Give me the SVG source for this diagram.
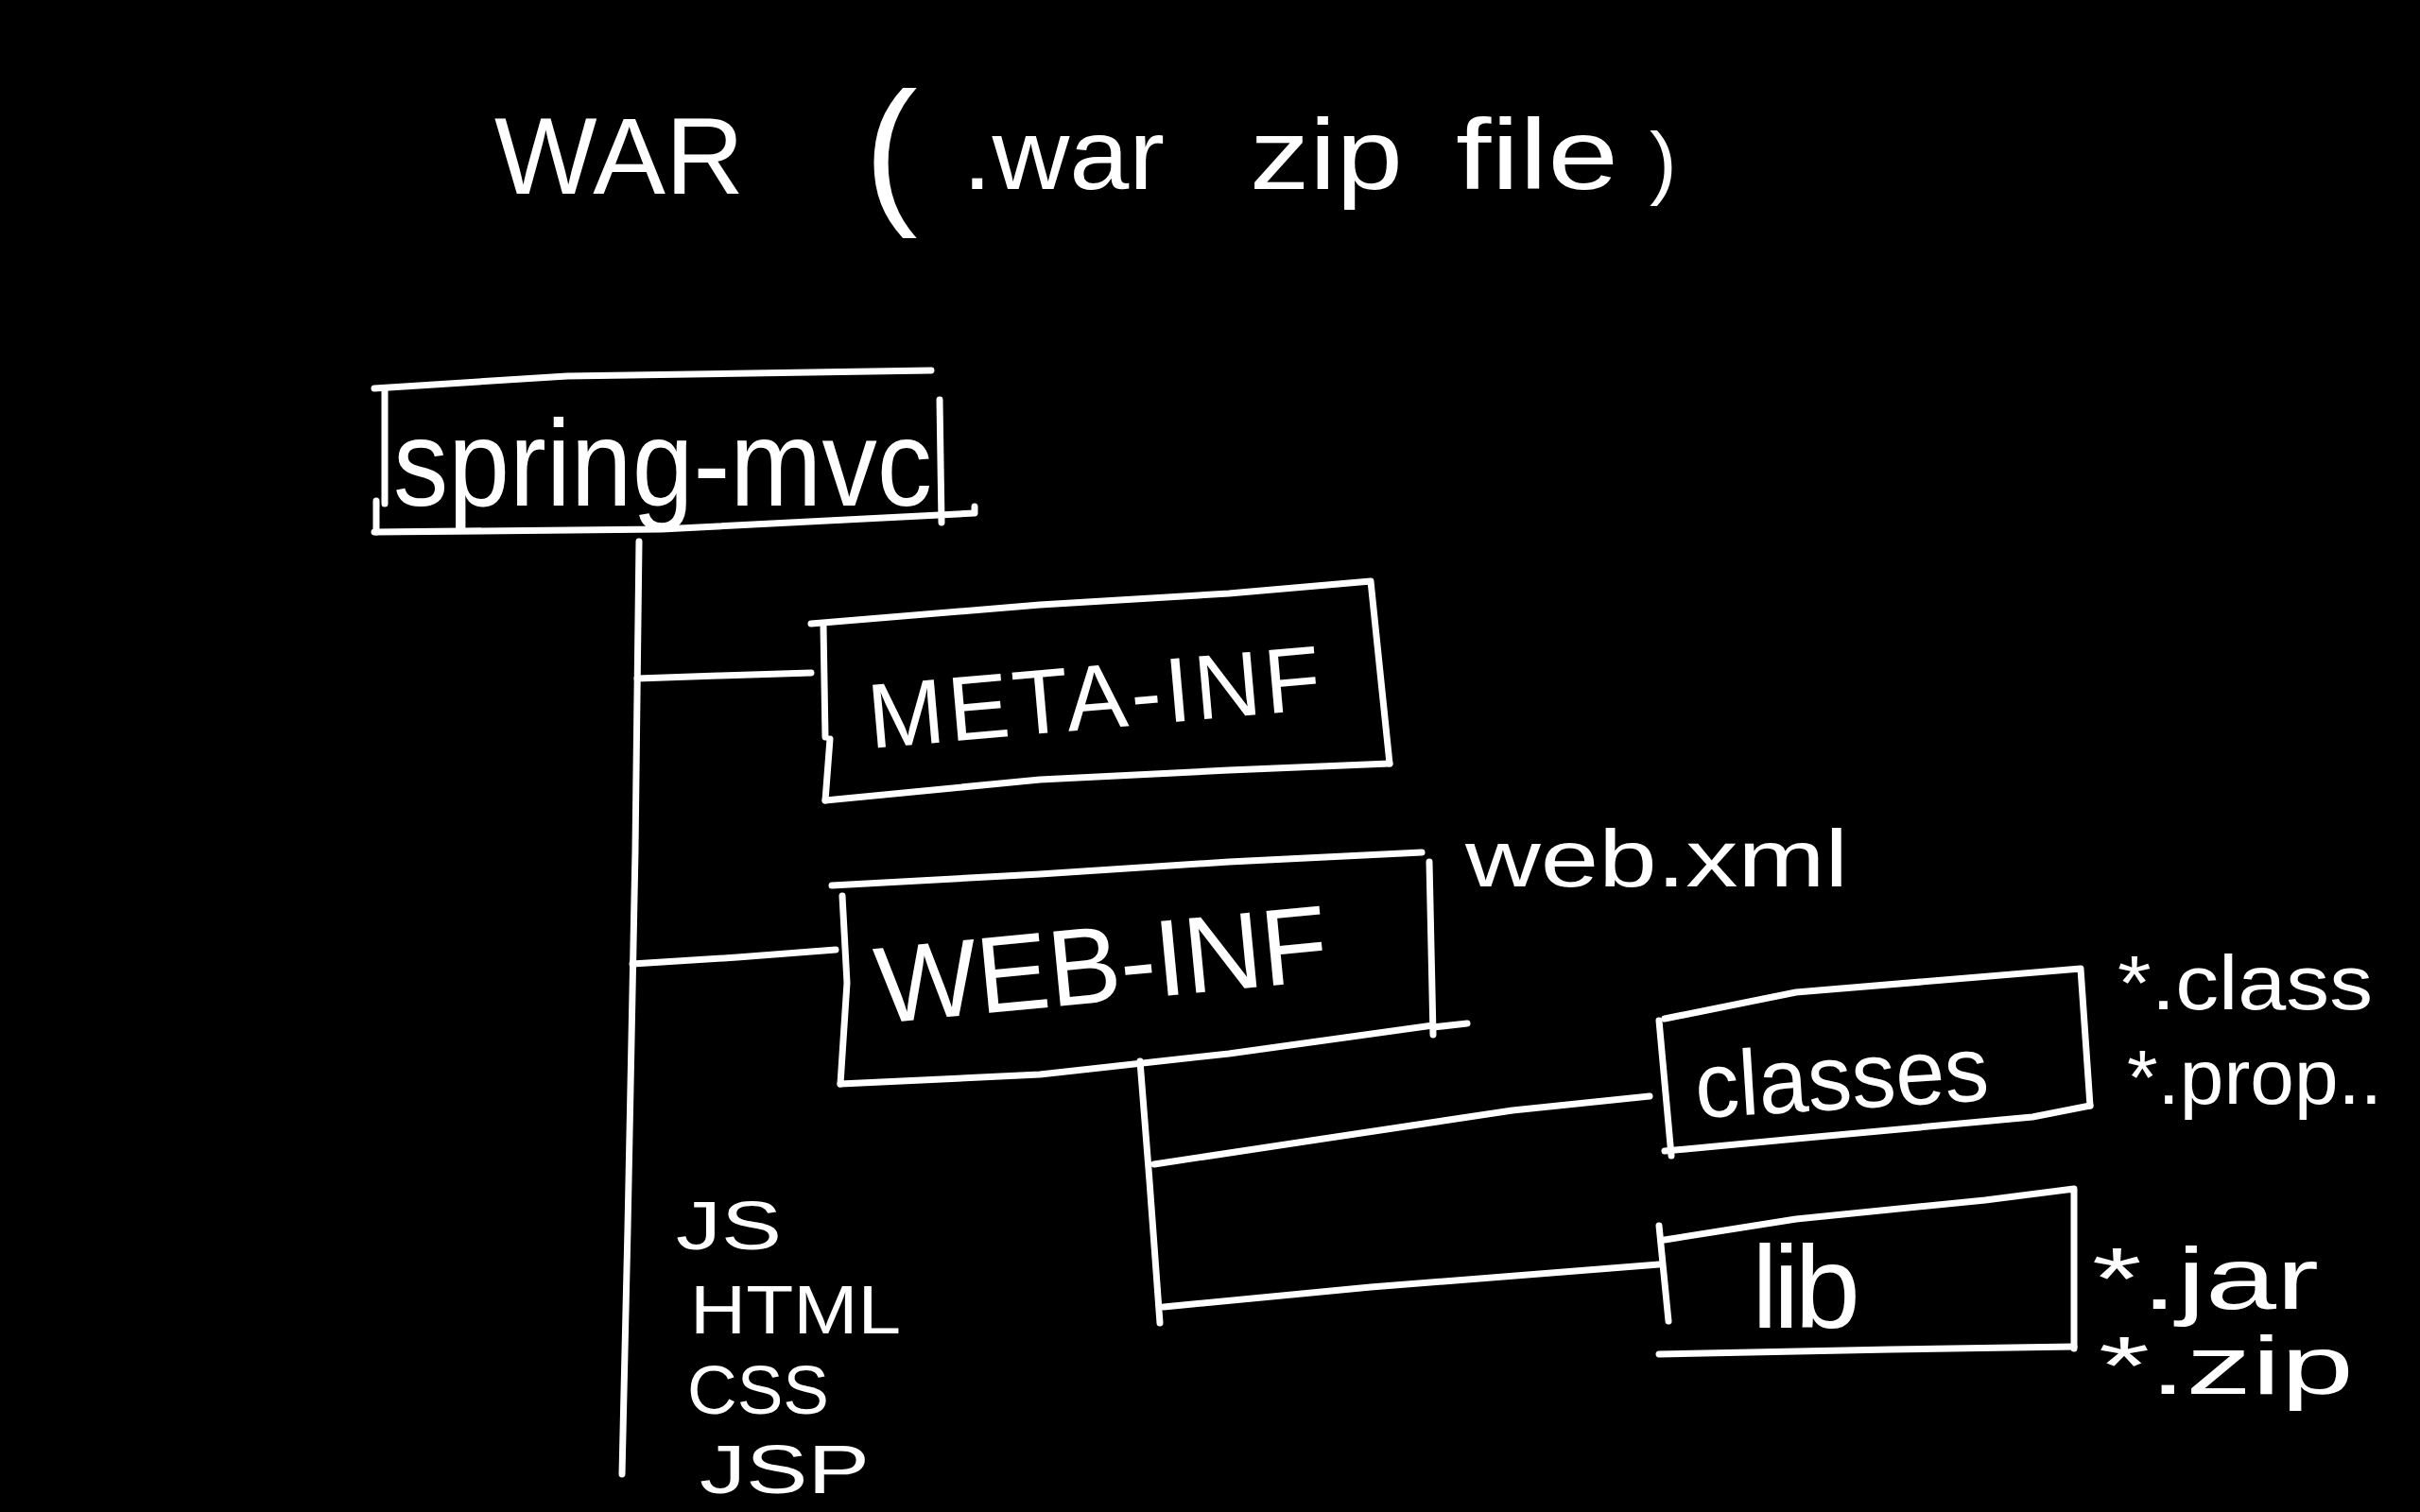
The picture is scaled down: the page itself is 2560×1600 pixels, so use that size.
<svg xmlns="http://www.w3.org/2000/svg" width="2560" height="1600" viewBox="0 0 2560 1600">
<style>
.ln{fill:none;stroke:#fff;stroke-width:7;stroke-linecap:round;stroke-linejoin:round}
text{fill:#fff;font-family:"Liberation Sans","Open Sans",sans-serif}
</style>
<rect x="0" y="0" width="2560" height="1600" fill="#000"/>
<g id="title">
<text y="205" font-size="115"><tspan x="523">WAR</tspan> <tspan x="914" y="217" font-size="170">(</tspan><tspan x="1018" y="200" font-size="105" textLength="214" lengthAdjust="spacingAndGlyphs">.war</tspan> <tspan x="1322" y="200" font-size="105" textLength="162" lengthAdjust="spacingAndGlyphs">zip</tspan> <tspan x="1540" y="200" font-size="105" textLength="172" lengthAdjust="spacingAndGlyphs">file</tspan><tspan x="1745" y="200" font-size="86">)</tspan></text>
</g>
<g id="connectors">
<path class="ln" d="M676 573 L672 900 L664 1300 L658 1560"/>
<path class="ln" d="M674 718 L760 715 L858 712"/>
<path class="ln" d="M669 1020 L780 1013 L884 1005"/>
<path class="ln" d="M1206 1123 L1216 1250 L1227 1400"/>
<path class="ln" d="M1221 1232 L1400 1205 L1600 1175 L1745 1160"/>
<path class="ln" d="M1231 1383 L1450 1362 L1755 1338"/>
</g>
<g id="node-spring-mvc">
<path class="ln" d="M396 411 L600 398 L985 392"/>
<path class="ln" d="M407 413 L407 533 M398 530 L398 563"/>
<path class="ln" d="M396 563 L700 560 L1031 543 L1031 536"/>
<path class="ln" d="M994 423 L996 553"/>
<text x="416" y="535" font-size="130" textLength="570" lengthAdjust="spacingAndGlyphs">spring-mvc</text>
</g>
<g id="node-meta-inf">
<path class="ln" d="M858 660 L1100 640 L1300 628 L1450 615 L1470 808"/>
<path class="ln" d="M873 847 L1100 825 L1300 815 L1470 808"/>
<path class="ln" d="M871 662 L873 780 M878 782 L873 847"/>
<text x="921" y="792" font-size="97" textLength="480" transform="rotate(-5 921 792)">META-INF</text>
</g>
<g id="node-web-inf">
<path class="ln" d="M880 937 L1100 925 L1300 912 L1504 902"/>
<path class="ln" d="M1512 912 L1516 1095 M1516 1087 L1552 1083"/>
<path class="ln" d="M889 1147 L1100 1137 L1300 1115 L1516 1085"/>
<path class="ln" d="M891 948 L896 1040 L889 1147"/>
<text x="930" y="1083" font-size="115" textLength="480" transform="rotate(-5.5 930 1083)">WEB-INF</text>
<text x="1550" y="938" font-size="85" textLength="405" lengthAdjust="spacingAndGlyphs">web.xml</text>
</g>
<g id="node-classes">
<path class="ln" d="M1761 1078 L1900 1050 L2201 1025 L2211 1170"/>
<path class="ln" d="M1761 1218 L1900 1205 L2150 1182 L2211 1170"/>
<path class="ln" d="M1755 1080 L1768 1223"/>
<text x="1795" y="1183" font-size="98" textLength="311" lengthAdjust="spacingAndGlyphs" transform="rotate(-3.5 1795 1183)">classes</text>
<text x="2240" y="1068" font-size="82" textLength="270" lengthAdjust="spacingAndGlyphs">*.class</text>
<text x="2250" y="1168" font-size="82" textLength="270" lengthAdjust="spacingAndGlyphs">*.prop..</text>
</g>
<g id="node-lib">
<path class="ln" d="M1761 1312 L1900 1290 L2100 1270 L2194 1258 L2194 1427"/>
<path class="ln" d="M1755 1433 L2000 1428 L2194 1425"/>
<path class="ln" d="M1755 1297 L1765 1398"/>
<text x="1853" y="1405" font-size="125" textLength="115">lib</text>
<text x="2213" y="1385" font-size="92" textLength="240" lengthAdjust="spacingAndGlyphs">*.jar</text>
<text x="2220" y="1475" font-size="88" textLength="270" lengthAdjust="spacingAndGlyphs">*.zip</text>
</g>
<g id="root-files">
<text x="715" y="1322" font-size="72" textLength="112" lengthAdjust="spacingAndGlyphs">JS</text>
<text x="730" y="1411" font-size="72" textLength="223" lengthAdjust="spacingAndGlyphs">HTML</text>
<text x="727" y="1496" font-size="72" textLength="150" lengthAdjust="spacingAndGlyphs">CSS</text>
<text x="740" y="1580" font-size="72" textLength="180" lengthAdjust="spacingAndGlyphs">JSP</text>
</g>
</svg>
